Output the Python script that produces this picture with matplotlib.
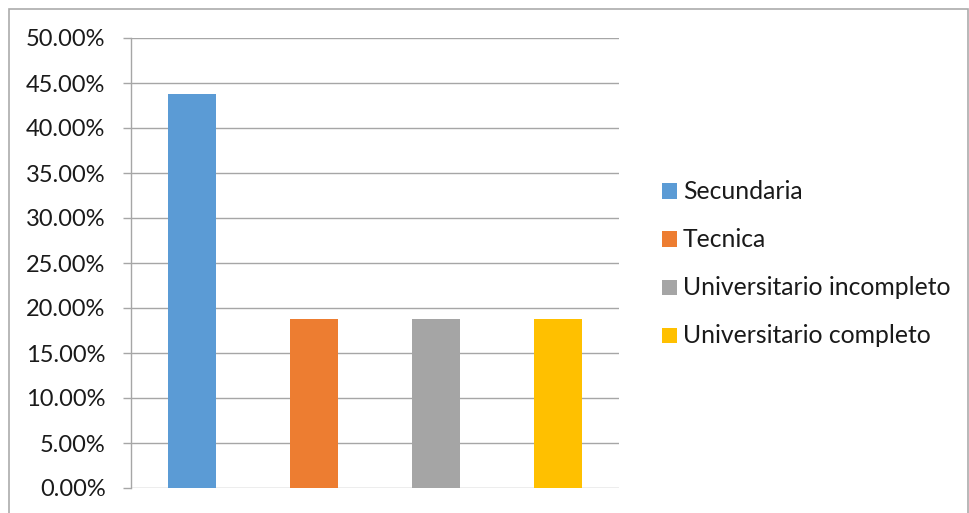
import matplotlib

matplotlib.use("Agg")

import matplotlib.pyplot as plt
from matplotlib.patches import Rectangle

categories = ["Secundaria", "Tecnica", "Universitario incompleto", "Universitario completo"]
shares = [43.75, 18.75, 18.75, 18.75]
colors = ["#5B9BD5", "#ED7D31", "#A5A5A5", "#FFC000"]
y_ticks = [0, 5, 10, 15, 20, 25, 30, 35, 40, 45, 50]

plt.rcParams["font.family"] = ["Lato", "DejaVu Sans"]

W, H = 969, 513
fig = plt.figure(figsize=(W / 100, H / 100), dpi=100)

# outer chart border
fig.patches.append(
    Rectangle((9 / W, -0.05), (968 - 9) / W, 1 - 9 / H + 0.05,
              transform=fig.transFigure, fill=False,
              edgecolor="#ABABAB", linewidth=1.2)
)

ax = fig.add_axes([131 / W, 1 - 488 / H, (619 - 131) / W, (488 - 38) / H])

positions = list(range(len(categories)))
ax.bar(positions, shares, width=0.4, color=colors, zorder=3)

ax.set_xlim(-0.5, len(categories) - 0.5)
ax.set_ylim(0, 50)
ax.set_yticks(y_ticks)
ax.set_yticklabels([f"{v:.2f}%" for v in y_ticks], fontsize=17, color="#1a1a1a")
ax.set_xticks([])
ax.grid(axis="y", color="#A6A6A6", linewidth=1.0, zorder=0)
ax.tick_params(axis="y", length=5.8, width=1.0, color="#A6A6A6", pad=12.5)

for side in ("top", "right", "bottom"):
    ax.spines[side].set_visible(False)
ax.spines["left"].set_color("#A6A6A6")
ax.spines["left"].set_linewidth(1.0)

# legend entries stacked on the right
legend_y = [191, 239, 287, 335]
for name, color, ly in zip(categories, colors, legend_y):
    fig.patches.append(
        Rectangle((662 / W, 1 - (ly + 7.5) / H), 15 / W, 15 / H,
                  transform=fig.transFigure, facecolor=color, edgecolor="none")
    )
    fig.text(683 / W, 1 - (ly + 8) / H, name, fontsize=17.8, color="#1a1a1a",
             va="baseline", ha="left")

fig.savefig("out.png", dpi=100)
